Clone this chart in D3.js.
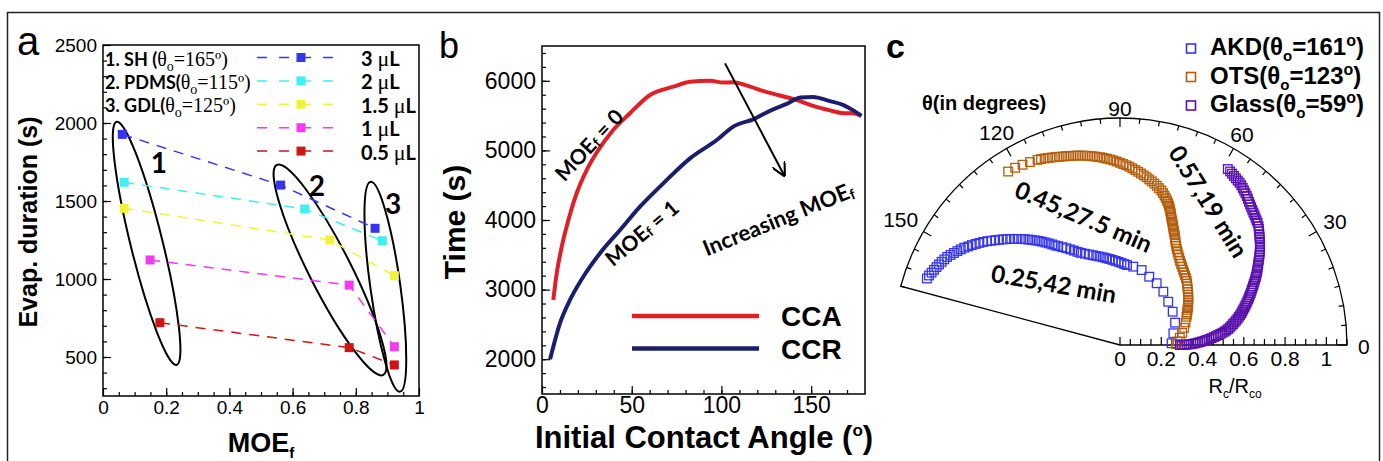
<!DOCTYPE html>
<html><head><meta charset="utf-8">
<script src="https://cdn.jsdelivr.net/npm/d3@7"></script>
<style>body{margin:0;background:#fff}svg{display:block}</style>
</head><body><svg id="c" width="1383" height="461"></svg>
<script>
// ---------- Panel a data ----------
const volumeLabels = ["3", "2", "1.5", "1", "0.5"];
const volumeColors = ["#3434f2", "#3ff0f0", "#f2f23a", "#f23af2", "#cc1515"];
const vol3X = [0.061, 0.562, 0.861],  vol3Y = [1927, 1602, 1325];
const vol2X = [0.067, 0.638, 0.884],  vol2Y = [1620, 1449, 1245];
const vol15X = [0.067, 0.718, 0.922], vol15Y = [1453, 1250, 1021];
const vol1X = [0.149, 0.779, 0.922],  vol1Y = [1122, 961, 566];
const vol05X = [0.180, 0.779, 0.922], vol05Y = [720, 560, 449];
const surfaceNames = ["1. SH (", "2. PDMS(", "3. GDL("];
const surfaceAngles = ["165", "115", "125"];
const groupLabels = ["1", "2", "3"];
const groupLabelX = [0.177, 0.677, 0.918], groupLabelY = [1750, 1603, 1487];
const ellipseTopX = [0.043, 0.55, 0.847], ellipseTopY = [2008, 1731, 1624];
const ellipseBotX = [0.233, 0.887, 0.94], ellipseBotY = [449, 385, 278];
const aXTicks = [0, 0.2, 0.4, 0.6, 0.8, 1];
const aYTicks = [500, 1000, 1500, 2000, 2500];

// ---------- Panel b data ----------
const ccaAngle = [6.3, 8.2, 11, 14.7, 19.3, 24.9, 31.4, 38.9, 49, 60.2, 73.2, 82.5, 93.6, 101, 106, 116, 123, 132, 142, 151, 160, 168, 173, 178];
const ccaTime  = [2851, 3234, 3616, 4000, 4384, 4718, 5006, 5269, 5533, 5796, 5915, 5987, 6002, 5975, 5978, 5917, 5855, 5793, 5721, 5639, 5578, 5535, 5535, 5497];
const ccrAngle = [4.5, 10, 15.6, 23, 32.3, 43.5, 54.6, 67.6, 82.5, 97.4, 106.6, 118, 127, 136, 144, 151, 160, 168, 173, 178];
const ccrTime  = [2000, 2516, 2851, 3185, 3522, 3856, 4191, 4527, 4886, 5149, 5341, 5450, 5568, 5664, 5760, 5769, 5711, 5650, 5582, 5497];
const bXTicks = [0, 50, 100, 150];
const bYTicks = [2000, 3000, 4000, 5000, 6000];

// ---------- Panel c data: [theta (deg), Rc/Rco] ----------
const akdPts = [[161,0.99],[160,0.985],[159,0.978],[158,0.972],[157,0.966],[156,0.96],[155,0.954],[154,0.947],[153,0.94],
 [152,0.93],[151,0.92],[150,0.91],[149,0.90],[148,0.89],[147,0.877],[146,0.866],[145,0.854],[144,0.842],[143,0.83],
 [142,0.817],[141,0.803],[140,0.79],[139,0.777],[138,0.765],[137,0.752],[136,0.74],[135,0.727],[134,0.715],[133,0.702],
 [132,0.69],[131,0.677],[130,0.665],[129,0.652],[128,0.64],[127,0.627],[126,0.614],[125,0.601],[124,0.588],[123,0.575],[122,0.565],
 [120.5,0.55],[119,0.536],[117.5,0.522],[116,0.509],[114.5,0.496],[113,0.485],
 [111,0.474],[109,0.464],[107,0.455],[105,0.447],[103,0.44],[101,0.433],[99,0.426],[97,0.42],[95,0.414],[93,0.408],[91,0.403],[89,0.398],[87,0.393],[85,0.389],
 [80.4,0.385],[73.9,0.378],[66.8,0.36],[59.3,0.348],[50.9,0.333],[41.9,0.314],[32.3,0.302],[22.1,0.288],[12.4,0.265],[1.9,0.25]];
const otsPts = [[122.8,1.0],[120.6,0.998],[118.4,0.993],[116.2,0.988],[114,0.982],
 [113,0.979],[112,0.975],[111,0.971],[110,0.967],[109,0.963],[108,0.959],[107,0.955],[106,0.952],[105,0.948],[104,0.945],
 [103,0.942],[102,0.939],[101,0.935],[100,0.931],[99,0.927],[98,0.923],[97,0.919],[96,0.915],[95,0.91],[94,0.905],[93,0.9],
 [92,0.895],[91,0.889],[90,0.883],[89,0.877],[88,0.871],[87,0.865],
 [86,0.858],[85,0.851],[84,0.844],[83,0.837],[82,0.83],[81,0.823],[80,0.815],[79,0.808],[78,0.8],[77,0.792],[76,0.783],[75,0.775],
 [74.2,0.765],[73.4,0.755],[72.6,0.745],[71.9,0.735],[71.2,0.725],[70.6,0.715],[70,0.705],[69.5,0.695],[69,0.685],[68.5,0.675],
 [68,0.665],[67.4,0.655],[66.8,0.645],[66.2,0.635],[65.6,0.625],[65,0.615],[64.3,0.605],[63.6,0.595],[62.9,0.585],[62.2,0.575],[61.5,0.565],
 [60.5,0.553],[59.4,0.541],[58.2,0.53],[57,0.52],[55.7,0.51],[54.4,0.5],[53,0.492],[51.5,0.484],[50,0.476],[48.5,0.469],[47,0.462],
 [45.5,0.456],[44,0.449],[42.5,0.441],[41,0.433],[39.5,0.425],[38,0.418],[36.5,0.411],[35,0.404],[33.5,0.397],[32,0.39],[30.5,0.383],
 [29,0.376],[27.5,0.369],[26,0.362],[24.5,0.356],[23,0.35],
 [19,0.336],[15,0.322],[11,0.307],[7,0.292],[3.5,0.28],[1,0.272]];
const glassPts = [[58.5,1.0],[57.6,0.996],[56.8,0.992],[56,0.988],[55.2,0.984],[54.4,0.98],[53.6,0.977],[52.8,0.972],[52,0.966],
 [51.2,0.96],[50.4,0.954],[49.6,0.948],[48.8,0.941],[48,0.934],[47.2,0.928],[46.4,0.922],[45.6,0.916],[44.8,0.911],[44,0.906],
 [43.2,0.901],[42.4,0.896],[41.6,0.892],[40.6,0.884],[39.9,0.877],[39.2,0.87],[38.5,0.863],[37.8,0.856],[37.1,0.849],[36.4,0.842],
 [35.7,0.835],[35,0.829],[34.3,0.821],[33.6,0.813],[32.9,0.805],[32.2,0.797],[31.5,0.789],[30.8,0.781],[30.1,0.773],[29.4,0.766],
 [28.7,0.759],[28,0.752],[27.3,0.744],[26.6,0.736],[25.9,0.728],[25.2,0.72],[24.5,0.712],[23.8,0.704],[23.1,0.696],[22.4,0.689],
 [21.7,0.682],[21,0.674],[20.3,0.667],[19.6,0.66],[18.9,0.652],[18.2,0.645],[17.5,0.637],[16.8,0.63],[16.1,0.622],[15.4,0.615],
 [14.7,0.608],[14,0.6],[13.3,0.592],[12.6,0.584],[11.9,0.575],[11.2,0.566],[10.5,0.557],[9.8,0.548],[9.1,0.539],[8.4,0.53],
 [7.8,0.52],[7.3,0.511],[6.8,0.5],[6.3,0.489],[5.8,0.478],[5.3,0.467],[4.8,0.456],[4.3,0.445],[3.8,0.433],[3.3,0.421],
 [2.9,0.41],[2.5,0.399],[2.1,0.388],[1.7,0.377],[1.3,0.366],[1,0.355],[0.7,0.344],[0.5,0.333],[0.3,0.322],[0.1,0.311],[0,0.3],[0,0.29]];
const polarNames = ["AKD(", "OTS(", "Glass("];
const polarAngles0 = ["161", "123", "59"];
const polarColors = ["#3535f0", "#b55e0c", "#5a12ae"];
const cAngleTicks = [0, 30, 60, 90, 120, 150];
const cRTicks = [0, 0.2, 0.4, 0.6, 0.8, 1];

// ---------- drawing ----------
const SANS = "'Liberation Sans', Arial, sans-serif";
const CAL = "Lato, 'Open Sans', sans-serif";
const SERIF = "'Liberation Serif', 'Times New Roman', serif";
const svg = d3.select("#c");

svg.append("rect").attr("x", 7.5).attr("y", 12.5).attr("width", 1372).attr("height", 480)
  .attr("fill", "none").attr("stroke", "#222").attr("stroke-width", 1.5);

function styleAxis(g, size) {
  g.select(".domain").remove();
  g.selectAll("line").attr("stroke", "#000").attr("stroke-width", 1.2);
  g.selectAll("text").attr("font-family", SANS).attr("font-size", size).attr("fill", "#000");
}

// ===== Panel a =====
const ax = d3.scaleLinear().domain([0, 1]).range([103, 419]);
const ay = d3.scaleLinear().domain([250, 2500]).range([396, 45]);
const gA = svg.append("g");
gA.append("g").attr("transform", "translate(103,0)")
  .call(d3.axisLeft(ay).tickValues(d3.range(300, 2500, 100)).tickSize(-4).tickFormat(""))
  .call(g => styleAxis(g, 19));
gA.append("g").attr("transform", "translate(103,0)")
  .call(d3.axisLeft(ay).tickValues(aYTicks).tickSize(-8).tickPadding(6).tickFormat(d3.format("d")))
  .call(g => styleAxis(g, 19));
gA.append("g").attr("transform", "translate(0,396)")
  .call(d3.axisBottom(ax).tickValues(d3.range(0.05, 1, 0.05)).tickSize(-4).tickFormat(""))
  .call(g => styleAxis(g, 19));
gA.append("g").attr("transform", "translate(0,396)")
  .call(d3.axisBottom(ax).tickValues(aXTicks).tickSize(-8).tickPadding(5).tickFormat(d => String(+d.toFixed(1))))
  .call(g => styleAxis(g, 19));
gA.append("rect").attr("x", 103).attr("y", 45).attr("width", 316).attr("height", 351)
  .attr("fill", "none").attr("stroke", "#000").attr("stroke-width", 1.5);

const volSeries = [[vol3X, vol3Y], [vol2X, vol2Y], [vol15X, vol15Y], [vol1X, vol1Y], [vol05X, vol05Y]];
groupLabels.forEach((lab, i) => {
  const x1 = ax(ellipseTopX[i]), y1 = ay(ellipseTopY[i]);
  const x2 = ax(ellipseBotX[i]), y2 = ay(ellipseBotY[i]);
  const cxE = (x1 + x2) / 2, cyE = (y1 + y2) / 2;
  const len = Math.hypot(x2 - x1, y2 - y1) / 2;
  const ang = Math.atan2(y2 - y1, x2 - x1) * 180 / Math.PI;
  const hw = [16, 21, 15][i];
  gA.append("ellipse").attr("cx", 0).attr("cy", 0).attr("rx", len).attr("ry", hw)
    .attr("transform", `translate(${cxE},${cyE}) rotate(${ang})`)
    .attr("fill", "none").attr("stroke", "#000").attr("stroke-width", 2);
  gA.append("text").attr("x", ax(groupLabelX[i])).attr("y", ay(groupLabelY[i]))
    .attr("text-anchor", "middle").attr("dominant-baseline", "central")
    .attr("font-family", CAL).attr("font-weight", "bold").attr("font-size", 28).text(lab);
});
const lineA = d3.line().x(d => ax(d[0])).y(d => ay(d[1]));
volSeries.forEach((s, i) => {
  const pts = s[0].map((x, k) => [x, s[1][k]]);
  gA.append("path").attr("d", lineA(pts)).attr("fill", "none").attr("stroke", volumeColors[i])
    .attr("stroke-width", 1.5).attr("stroke-dasharray", "10,8");
  gA.selectAll(null).data(pts).enter().append("rect")
    .attr("x", d => ax(d[0]) - 4.5).attr("y", d => ay(d[1]) - 4.5).attr("width", 9).attr("height", 9)
    .attr("fill", volumeColors[i]);
});
volumeLabels.forEach((lab, i) => {
  const y = 57.5 + i * 23.4;
  gA.append("line").attr("x1", 257).attr("x2", 334).attr("y1", y).attr("y2", y)
    .attr("stroke", volumeColors[i]).attr("stroke-width", 1.5).attr("stroke-dasharray", "10,12");
  gA.append("rect").attr("x", 296.5).attr("y", y - 4.5).attr("width", 9).attr("height", 9).attr("fill", volumeColors[i]);
  const t = gA.append("text").attr("x", 361).attr("y", y + 8.5).attr("font-size", 20).attr("fill", "#000");
  t.append("tspan").attr("font-family", CAL).attr("font-weight", "bold").text(lab + " ");
  t.append("tspan").attr("font-family", SERIF).attr("font-size", 22).text("\u03bc");
  t.append("tspan").attr("font-family", CAL).attr("font-weight", "bold").text("L");
});
surfaceNames.forEach((nm, i) => {
  const y = 65.5 + i * 23.4;
  const t = gA.append("text").attr("x", 105).attr("y", y).attr("font-size", 18).attr("fill", "#000");
  t.append("tspan").attr("font-family", CAL).attr("font-weight", "bold").text(nm);
  t.append("tspan").attr("font-family", SERIF).attr("font-size", 20).text("\u03b8");
  t.append("tspan").attr("font-family", SERIF).attr("font-size", 14).attr("dy", 5).text("o");
  t.append("tspan").attr("font-family", SERIF).attr("font-size", 20).attr("dy", -5).text("=" + surfaceAngles[i] + "\u00ba)");
});
gA.append("text").attr("transform", "translate(37,222) rotate(-90)").attr("text-anchor", "middle")
  .attr("font-family", SANS).attr("font-weight", "bold").attr("font-size", 25).text("Evap. duration (s)");
const tx = gA.append("text").attr("x", 261).attr("y", 452).attr("text-anchor", "middle")
  .attr("font-family", SANS).attr("font-weight", "bold").attr("font-size", 27);
tx.append("tspan").text("MOE");
tx.append("tspan").attr("font-size", 15).attr("dy", 6).text("f");
svg.append("text").attr("x", 17).attr("y", 55).attr("font-family", SANS).attr("font-size", 40).text("a");

// ===== Panel b =====
const bx = d3.scaleLinear().domain([0, 180]).range([542, 865]);
const by = d3.scaleLinear().domain([1500, 6500]).range([394, 46]);
const gB = svg.append("g");
gB.append("g").attr("transform", "translate(542,0)")
  .call(d3.axisLeft(by).tickValues(d3.range(1600, 6500, 200)).tickSize(-4).tickFormat(""))
  .call(g => styleAxis(g, 23));
gB.append("g").attr("transform", "translate(542,0)")
  .call(d3.axisLeft(by).tickValues(bYTicks).tickSize(-8).tickPadding(6).tickFormat(d3.format("d")))
  .call(g => styleAxis(g, 23));
gB.append("g").attr("transform", "translate(0,394)")
  .call(d3.axisBottom(bx).tickValues(d3.range(10, 180, 10)).tickSize(-4).tickFormat(""))
  .call(g => styleAxis(g, 23));
gB.append("g").attr("transform", "translate(0,394)")
  .call(d3.axisBottom(bx).tickValues(bXTicks).tickSize(-8).tickPadding(3).tickFormat(d3.format("d")))
  .call(g => styleAxis(g, 23));
gB.append("rect").attr("x", 542).attr("y", 46).attr("width", 323).attr("height", 348)
  .attr("fill", "none").attr("stroke", "#000").attr("stroke-width", 1.5);
const lineB = d3.line().x(d => bx(d[0])).y(d => by(d[1])).curve(d3.curveMonotoneX);
gB.append("path").attr("d", lineB(ccaAngle.map((a, k) => [a, ccaTime[k]])))
  .attr("fill", "none").attr("stroke", "#e11f26").attr("stroke-width", 4);
gB.append("path").attr("d", lineB(ccrAngle.map((a, k) => [a, ccrTime[k]])))
  .attr("fill", "none").attr("stroke", "#1b1e6c").attr("stroke-width", 4);
[["CCA", "#e11f26", 316], ["CCR", "#1b1e6c", 348.5]].forEach(([lab, col, y]) => {
  gB.append("line").attr("x1", 632).attr("x2", 759).attr("y1", y).attr("y2", y).attr("stroke", col).attr("stroke-width", 4.5);
  gB.append("text").attr("x", 781).attr("y", y + 10).attr("font-family", SANS).attr("font-weight", "bold")
    .attr("font-size", 28).text(lab);
});
function moeLabel(g, x, y, rot, pre, post, size) {
  const t = g.append("text").attr("transform", `translate(${x},${y}) rotate(${rot})`).attr("text-anchor", "middle")
    .attr("dominant-baseline", "central").attr("font-family", CAL).attr("font-weight", "bold").attr("font-size", size);
  t.append("tspan").text(pre + "MOE");
  t.append("tspan").attr("font-size", size * 0.65).attr("dy", 5).text("f");
  t.append("tspan").attr("dy", -5).text(post);
}
moeLabel(gB, 588, 144, -47, "", " = 0", 21);
moeLabel(gB, 641, 232, -40, "", " = 1", 21);
moeLabel(gB, 778, 218, -22, "Increasing ", "", 22);
svg.append("defs").append("marker").attr("id", "arr").attr("viewBox", "0 0 10 10").attr("refX", 9).attr("refY", 5)
  .attr("markerWidth", 7).attr("markerHeight", 7).attr("orient", "auto-start-reverse")
  .append("path").attr("d", "M0,0 L10,5 L0,10").attr("fill", "none").attr("stroke", "#000").attr("stroke-width", 1.5);
gB.append("line").attr("x1", bx(102)).attr("y1", by(6250)).attr("x2", bx(135)).attr("y2", by(4640))
  .attr("stroke", "#000").attr("stroke-width", 2).attr("marker-end", "url(#arr)");
gB.append("text").attr("transform", "translate(465,222) rotate(-90)").attr("text-anchor", "middle")
  .attr("font-family", SANS).attr("font-weight", "bold").attr("font-size", 30).text("Time (s)");
const tb = gB.append("text").attr("x", 704).attr("y", 448).attr("text-anchor", "middle")
  .attr("font-family", SANS).attr("font-weight", "bold").attr("font-size", 31);
tb.append("tspan").text("Initial Contact Angle (");
tb.append("tspan").attr("font-size", 17).attr("dy", -12).text("o");
tb.append("tspan").attr("dy", 12).text(")");
svg.append("text").attr("x", 439).attr("y", 58).attr("font-family", SANS).attr("font-size", 36).text("b");

// ===== Panel c =====
const pcx = 1120, pcy = 345;
const rS = d3.scaleLinear().domain([0, 1.1]).range([0, 227]);
const tS = d3.scaleLinear().domain([0, 180]).range([0, Math.PI]);
const P = (th, r) => [pcx + rS(r) * Math.cos(tS(th)), pcy - rS(r) * Math.sin(tS(th))];
const gC = svg.append("g");
const R = rS(1.1);
const fr = d3.path();
fr.moveTo(pcx, pcy); fr.lineTo(pcx + R, pcy); fr.arc(pcx, pcy, R, 0, -tS(165), true); fr.closePath();
gC.append("path").attr("d", fr.toString()).attr("fill", "none").attr("stroke", "#000").attr("stroke-width", 1.3);
d3.range(0, 166, 5).forEach(a => {
  const len = a % 30 === 0 ? 9 : 5;
  const p1 = P(a, 1.1), p2 = [pcx + (R - len) * Math.cos(tS(a)), pcy - (R - len) * Math.sin(tS(a))];
  gC.append("line").attr("x1", p1[0]).attr("y1", p1[1]).attr("x2", p2[0]).attr("y2", p2[1])
    .attr("stroke", "#000").attr("stroke-width", 1.2);
});
d3.range(0, 1.1001, 0.05).forEach(r => {
  const len = Math.abs(r * 5 - Math.round(r * 5)) < 1e-6 ? 8 : 6;
  gC.append("line").attr("x1", pcx + rS(r)).attr("x2", pcx + rS(r)).attr("y1", pcy).attr("y2", pcy - len)
    .attr("stroke", "#000").attr("stroke-width", 1.2);
});
cRTicks.forEach(r => {
  gC.append("text").attr("x", pcx + rS(r)).attr("y", pcy + 21).attr("text-anchor", "middle")
    .attr("font-family", SANS).attr("font-size", 21).text(String(+r.toFixed(1)));
});
cAngleTicks.forEach(a => {
  const lab = String(a);
  const w = lab.length * 11.7;
  const rr = 238 + (w / 2) * Math.abs(Math.cos(tS(a)));
  gC.append("text").attr("x", pcx + rr * Math.cos(tS(a))).attr("y", pcy - rr * Math.sin(tS(a)) + 1)
    .attr("text-anchor", "middle").attr("dominant-baseline", "central")
    .attr("font-family", SANS).attr("font-size", 21).text(lab);
});
[akdPts, otsPts, glassPts].forEach((pts, i) => {
  gC.selectAll(null).data(pts).enter().append("rect")
    .attr("x", d => P(d[0], d[1])[0] - 4.3).attr("y", d => P(d[0], d[1])[1] - 4.3)
    .attr("width", 8.6).attr("height", 8.6).attr("fill", "none")
    .attr("stroke", polarColors[i]).attr("stroke-width", 1.3);
});
polarNames.forEach((nm, i) => {
  const y = 55 + i * 28.5;
  gC.append("rect").attr("x", 1186.5).attr("y", y - 11).attr("width", 9).attr("height", 9)
    .attr("fill", "none").attr("stroke", polarColors[i]).attr("stroke-width", 1.6);
  const t = gC.append("text").attr("x", 1210).attr("y", y).attr("font-family", SANS).attr("font-weight", "bold")
    .attr("font-size", 24);
  t.append("tspan").text(nm + "\u03b8");
  t.append("tspan").attr("font-size", 15).attr("dy", 6).text("o");
  t.append("tspan").attr("dy", -6).text("=" + polarAngles0[i]);
  t.append("tspan").attr("font-size", 16).attr("dy", -9).text("o");
  t.append("tspan").attr("dy", 9).text(")");
});
gC.append("text").attr("x", 922).attr("y", 110).attr("font-family", SANS).attr("font-weight", "bold")
  .attr("font-size", 20).text("\u03b8(in degrees)");
const tr = gC.append("text").attr("x", 1235).attr("y", 393).attr("text-anchor", "middle")
  .attr("font-family", SANS).attr("font-size", 20);
tr.append("tspan").text("R");
tr.append("tspan").attr("font-size", 12).attr("dy", 5).text("c");
tr.append("tspan").attr("dy", -5).text("/R");
tr.append("tspan").attr("font-size", 12).attr("dy", 5).text("co");
[["0.45,27.5 min", 1084, 216, 23], ["0.57,19 min", 1209, 201, 58], ["0.25,42 min", 1054, 283, 10]].forEach(([s, x, y, r]) => {
  gC.append("text").attr("transform", `translate(${x},${y}) rotate(${r})`).attr("text-anchor", "middle")
    .attr("dominant-baseline", "central").attr("font-family", CAL).attr("font-weight", "bold")
    .attr("font-size", 24).text(s);
});
svg.append("text").attr("x", 886).attr("y", 58).attr("font-family", SANS).attr("font-weight", "bold")
  .attr("font-size", 34).text("c");
</script></body></html>
